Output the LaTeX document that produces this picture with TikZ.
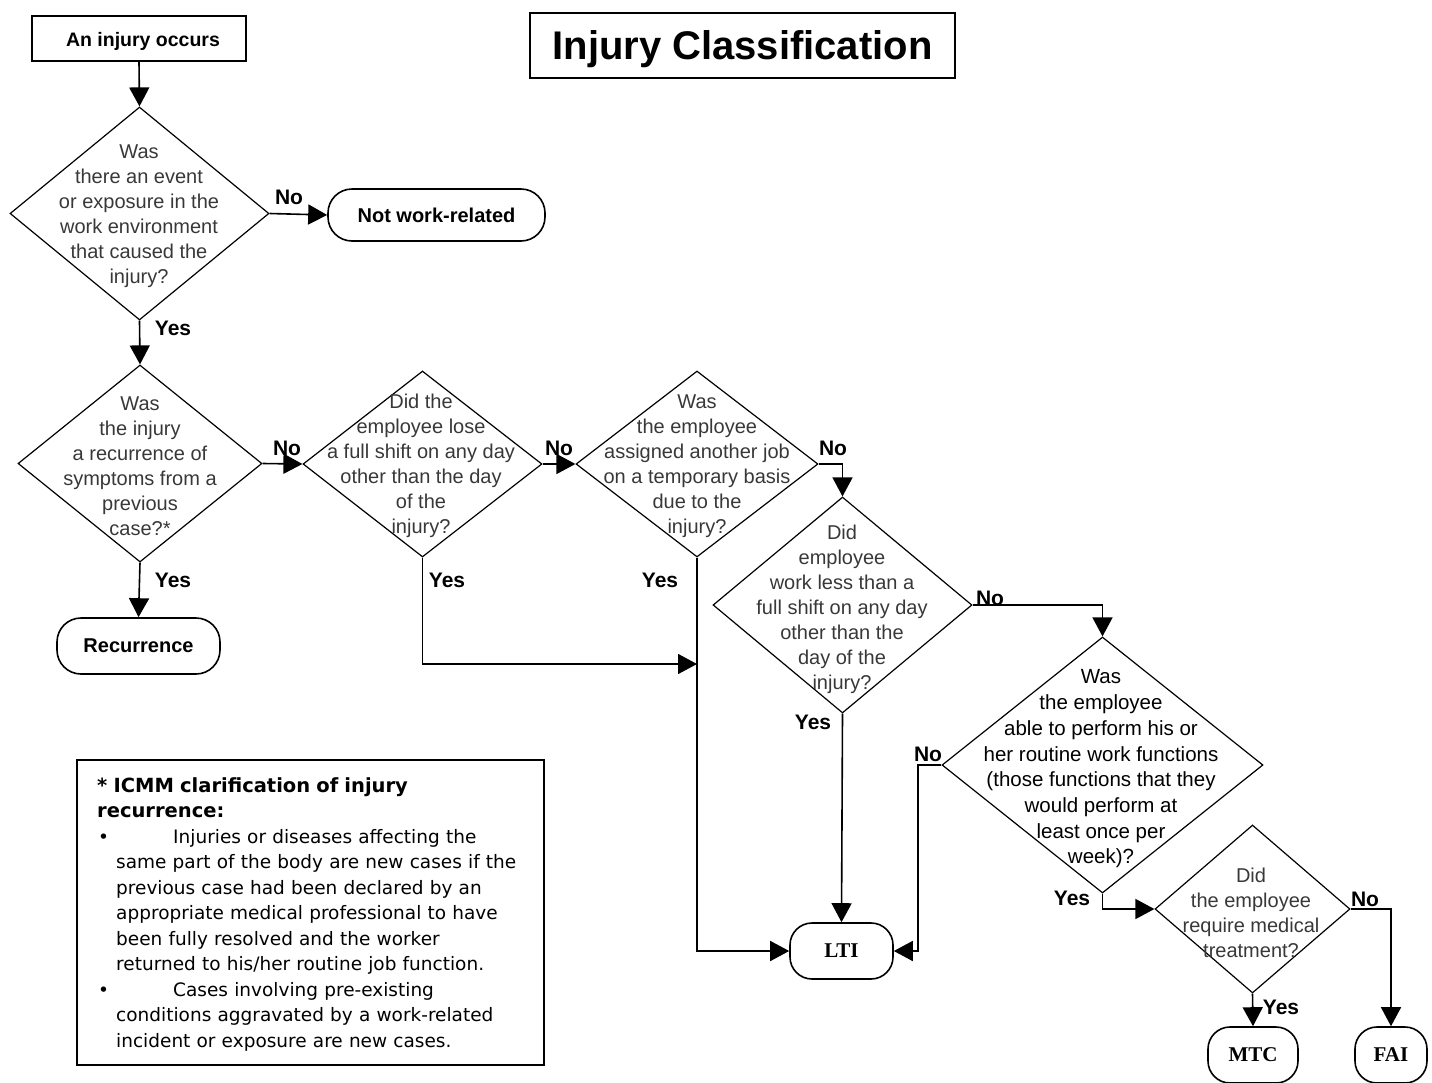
\documentclass[tikz,border=0pt]{standalone}
\usepackage{fontspec}
\setmainfont{Liberation Sans}
\newfontfamily\timesf{Liberation Serif}
\newfontfamily\verdf{DejaVu Sans}
\usetikzlibrary{shapes.geometric,arrows.meta}
\begin{document}
\begin{tikzpicture}[x=1pt,y=-1pt,
 dia/.style={diamond, draw, line width=1.2pt, inner sep=0pt},
 dtext/.style={align=center, text=black!78, font=\fontsize{20}{25}\selectfont, inner sep=0pt},
 term/.style={draw, line width=1.6pt, rounded corners=24pt, font=\bfseries\fontsize{20}{24}\selectfont, inner sep=0pt},
 sterm/.style={term, rounded corners=22pt, font=\timesf\bfseries\fontsize{21}{24}\selectfont},
 yn/.style={font=\bfseries\fontsize{21}{24}\selectfont, inner sep=0pt},
 arr/.style={line width=1.6pt, -{Triangle[length=19pt,width=20pt]}},
 boxx/.style={draw, line width=1.6pt, inner sep=0pt}
]
\useasboundingbox (0,0) rectangle (1432,1082);
\clip (0,0) rectangle (1432,1082);

% top boxes
\node[boxx, minimum width=214pt, minimum height=45pt, text height=15pt, text depth=0pt, font=\bfseries\fontsize{19.5}{23}\selectfont] (start) at (139,38.5) {\hspace*{8pt}An injury occurs};
\node[boxx, minimum width=425pt, minimum height=65pt, text height=30pt, text depth=2pt, font=\bfseries\fontsize{40}{48}\selectfont] (title) at (742.5,45.5) {Injury Classification};

% diamonds
\node[dia, minimum width=259pt, minimum height=213pt] (d1) at (139.5,213.5) {};
\node[dtext] (d1t) at (139,216) {Was\\there an event\\or exposure in the\\work environment\\that caused the\\injury?};

\node[dia, minimum width=244pt, minimum height=197pt] (d2) at (140,463.5) {};
\node[dtext] (d2t) at (140,466) {Was\\the injury\\a recurrence of\\symptoms from a\\previous\\case?*};

\node[dia, minimum width=239pt, minimum height=186pt] (d3) at (422.5,464) {};
\node[dtext] (d3t) at (421,466) {Did the\\employee lose\\a full shift on any day\\other than the day\\of the\\injury?};

\node[dia, minimum width=242pt, minimum height=186pt] (d4) at (697,464) {};
\node[dtext] (d4t) at (697,466) {Was\\the employee\\assigned another job\\on a temporary basis\\due to the\\injury?};

\node[dia, minimum width=259pt, minimum height=216pt] (d5) at (842.5,605) {};
\node[dtext] (d5t) at (842,609) {Did\\employee\\work less than a\\full shift on any day\\other than the\\day of the\\injury?};

\node[dia, minimum width=321pt, minimum height=256pt] (d6) at (1102.5,765) {};
\node[dtext, text=black, font=\fontsize{20.5}{25.7}\selectfont] (d6t) at (1101,769) {Was\\the employee\\able to perform his or\\her routine work functions\\(those functions that they\\would perform at\\least once per\\week)?};

\node[dia, minimum width=195pt, minimum height=168pt] (d7) at (1252.5,909) {};
\node[dtext] (d7t) at (1251,913) {Did\\the employee\\require medical\\treatment?};

% terminals
\node[term, minimum width=217pt, minimum height=52pt] (nwr) at (436.5,215) {Not work-related};
\node[term, minimum width=163pt, minimum height=56pt] (rec) at (138.5,646) {Recurrence};
\node[sterm, minimum width=103pt, minimum height=56pt] (lti) at (841.5,951) {LTI};
\node[sterm, minimum width=90pt, minimum height=56pt] (mtc) at (1253,1055) {MTC};
\node[sterm, minimum width=72pt, minimum height=56pt] (fai) at (1391,1055) {FAI};

% helper coordinates
\coordinate (c1) at (697,664);
\coordinate (c2) at (918,765);

% connectors
\draw[arr] (start.south) -- (d1.north);
\draw[arr] (d1.east) -- (nwr.west);
\draw[arr] (d1.south) -- (d2.north);
\draw[arr] (d2.east) -- (d3.west);
\draw[arr] (d3.east) -- (d4.west);
\draw[arr] (d2.south) -- (rec.north);
\draw[arr] (d3.south) |- (c1);
\draw[arr] (d4.south) |- (lti.west);
\draw[arr] (d4.east) -| (d5.north);
\draw[arr] (d5.south) -- (lti.north);
\draw[arr] (d5.east) -| (d6.north);
\draw[arr] (d6.west) -- (c2) |- (lti.east);
\draw[arr] (d6.south) |- (d7.west);
\draw[arr] (d7.east) -| (fai.north);
\draw[arr] (d7.south) -- (mtc.north);

% labels
\node[yn] (l1) at (289,197) {No};
\node[yn] (l2) at (173,328) {Yes};
\node[yn] (l3) at (287,448) {No};
\node[yn] (l4) at (559,448) {No};
\node[yn] (l5) at (173,580) {Yes};
\node[yn] (l6) at (447,580) {Yes};
\node[yn] (l7) at (660,580) {Yes};
\node[yn] (l8) at (833,448) {No};
\node[yn] (l9) at (990,598) {No};
\node[yn] (l10) at (813,722) {Yes};
\node[yn] (l11) at (928,754) {No};
\node[yn] (l12) at (1072,898) {Yes};
\node[yn] (l13) at (1365,899) {No};
\node[yn] (l14) at (1281,1007) {Yes};

% note box
\node[boxx, minimum width=467pt, minimum height=305pt] (notebox) at (310.5,912.5) {};
\node[anchor=north west, inner sep=0pt, text width=440pt, align=left,
      font=\verdf\fontsize{18.5}{25.5}\selectfont] (notetext) at (97,777)
{{\fontsize{19.5}{25.5}\selectfont\textbf{* ICMM clarification of injury}}\\
{\fontsize{19.5}{25.5}\selectfont\textbf{recurrence:}}\\
\makebox[76pt][l]{\hspace*{1pt}\textbullet}Injuries or diseases affecting the\\
\hspace*{19pt}same part of the body are new cases if the\\
\hspace*{19pt}previous case had been declared by an\\
\hspace*{19pt}appropriate medical professional to have\\
\hspace*{19pt}been fully resolved and the worker\\
\hspace*{19pt}returned to his/her routine job function.\\
\makebox[76pt][l]{\hspace*{1pt}\textbullet}Cases involving pre-existing\\
\hspace*{19pt}conditions aggravated by a work-related\\
\hspace*{19pt}incident or exposure are new cases.};
\end{tikzpicture}
\end{document}
